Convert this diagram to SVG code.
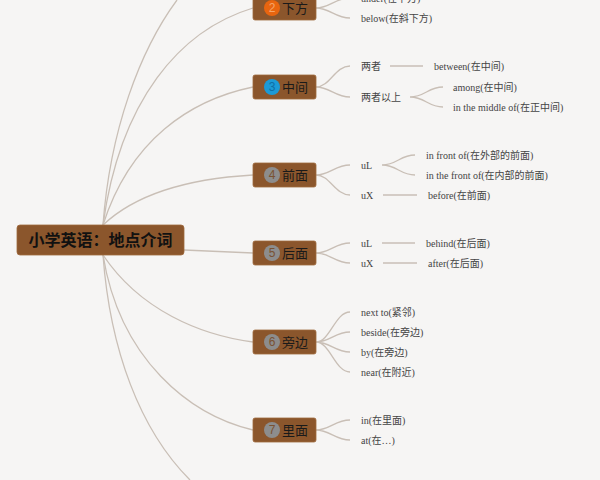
<svg xmlns="http://www.w3.org/2000/svg" width="600" height="480" viewBox="0 0 600 480">
<style>
.c{fill:none;stroke:#c9bfb6;stroke-width:1.3}
.b{fill:#8b562c;stroke:#a06a3c;stroke-width:0.8}
.t{font-family:"Liberation Sans","Noto Sans CJK SC",sans-serif;font-size:13px;fill:#1a1a1a}
.r{font-family:"Liberation Sans","Noto Sans CJK SC",sans-serif;font-size:16px;font-weight:bold;fill:#111}
.n{font-family:"Liberation Sans",sans-serif;font-size:12px;text-anchor:middle;fill:#7a5232}
.l{font-family:"Liberation Serif","Noto Sans CJK SC",serif;font-size:10px;fill:#444}
</style>
<rect width="600" height="480" fill="#f6f5f4"/>
<g id="connectors">
<path class="c" d="M103,225 C110,130 140,50 177,0"/>
<path class="c" d="M103,225 C120,100 180,30 253,8"/>
<path class="c" d="M103,225 C130,140 190,100 253,87"/>
<path class="c" d="M103,225 C140,190 200,178 253,175"/>
<path class="c" d="M184,250 L253,253"/>
<path class="c" d="M103,255 C140,310 200,335 253,342"/>
<path class="c" d="M103,255 C120,360 190,415 253,430"/>
<path class="c" d="M103,255 C110,350 140,430 190,480"/>
<path class="c" d="M316,8 C330,8 335,-2 350,-2 M316,8 C330,8 335,18 350,18"/>
<path class="c" d="M316,87 C330,87 335,66 350,66 M316,87 C330,87 335,97 350,97"/>
<path class="c" d="M390,66 H423 M410,97 C425,97 428,87 443,87 M410,97 C425,97 428,107 443,107"/>
<path class="c" d="M316,175 C330,175 335,165 350,165 M316,175 C330,175 335,195 350,195"/>
<path class="c" d="M382,165 C397,165 400,155 415,155 M382,165 C397,165 400,175 415,175 M383,195 H417"/>
<path class="c" d="M316,253 C330,253 335,243 350,243 M316,253 C330,253 335,263 350,263"/>
<path class="c" d="M382,243 H415 M383,263 H417"/>
<path class="c" d="M316,342 C330,342 335,312 350,312 M316,342 C330,342 335,332 350,332 M316,342 C330,342 335,352 350,352 M316,342 C330,342 335,372 350,372"/>
<path class="c" d="M316,430 C330,430 335,420 350,420 M316,430 C330,430 335,440 350,440"/>
</g>
<g id="root"><rect class="b" x="17" y="225" width="167" height="30" rx="3"/><text class="r" x="100.5" y="246" text-anchor="middle">小学英语：地点介词</text></g>
<g id="n2"><rect class="b" x="253" y="-4" width="63" height="24" rx="2"/><circle cx="272" cy="8" r="8" fill="#e8650f"/><text class="n" x="272" y="12" style="fill:#f6a468">2</text><text class="t" x="282" y="13">下方</text>
<text class="l" x="361" y="2">under(在下方)</text><text class="l" x="361" y="22">below(在斜下方)</text></g>
<g id="n3"><rect class="b" x="253" y="75" width="63" height="24" rx="2"/><circle cx="272" cy="87" r="8" fill="#1c9ad6"/><text class="n" x="272" y="91" style="fill:#0f6fa5">3</text><text class="t" x="282" y="92">中间</text>
<text class="l" x="361" y="70">两者</text><text class="l" x="434" y="70">between(在中间)</text><text class="l" x="361" y="101">两者以上</text><text class="l" x="453" y="91">among(在中间)</text><text class="l" x="453" y="111">in the middle of(在正中间)</text></g>
<g id="n4"><rect class="b" x="253" y="163" width="63" height="24" rx="2"/><circle cx="272" cy="175" r="8" fill="#8d8d8d"/><text class="n" x="272" y="179">4</text><text class="t" x="282" y="180">前面</text>
<text class="l" x="361" y="169">uL</text><text class="l" x="361" y="199">uX</text><text class="l" x="426" y="159">in front of(在外部的前面)</text><text class="l" x="426" y="179">in the front of(在内部的前面)</text><text class="l" x="428" y="199">before(在前面)</text></g>
<g id="n5"><rect class="b" x="253" y="241" width="63" height="24" rx="2"/><circle cx="272" cy="253" r="8" fill="#8d8d8d"/><text class="n" x="272" y="257">5</text><text class="t" x="282" y="258">后面</text>
<text class="l" x="361" y="247">uL</text><text class="l" x="361" y="267">uX</text><text class="l" x="426" y="247">behind(在后面)</text><text class="l" x="428" y="267">after(在后面)</text></g>
<g id="n6"><rect class="b" x="253" y="330" width="63" height="24" rx="2"/><circle cx="272" cy="342" r="8" fill="#8d8d8d"/><text class="n" x="272" y="346">6</text><text class="t" x="282" y="347">旁边</text>
<text class="l" x="361" y="316">next to(紧邻)</text><text class="l" x="361" y="336">beside(在旁边)</text><text class="l" x="361" y="356">by(在旁边)</text><text class="l" x="361" y="376">near(在附近)</text></g>
<g id="n7"><rect class="b" x="253" y="418" width="63" height="24" rx="2"/><circle cx="272" cy="430" r="8" fill="#8d8d8d"/><text class="n" x="272" y="434">7</text><text class="t" x="282" y="435">里面</text>
<text class="l" x="361" y="424">in(在里面)</text><text class="l" x="361" y="444">at(在…)</text></g>
</svg>
